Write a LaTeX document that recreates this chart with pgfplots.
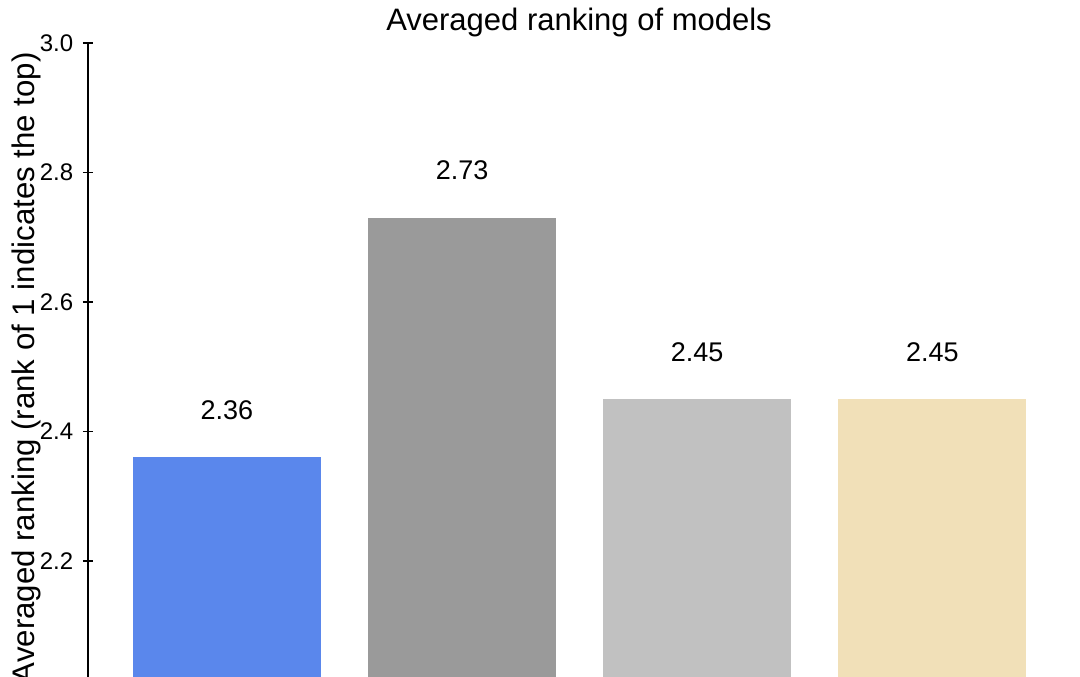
\documentclass[border=0pt]{standalone}
\usepackage{pgfplots}
\pgfplotsset{compat=1.18}
\usepackage{fontspec}
\setmainfont{Liberation Sans}
\definecolor{cblue}{HTML}{5A87EC}
\definecolor{cdgray}{HTML}{9A9A9A}
\definecolor{clgray}{HTML}{C1C1C1}
\definecolor{cbeige}{HTML}{F1E0B8}
\begin{document}
\fontsize{14bp}{16bp}\selectfont
\begin{tikzpicture}
\useasboundingbox (0,0) rectangle (540bp,338.5bp);
\clip (0,0) rectangle (540bp,338.5bp);
\begin{axis}[
  at={(44bp,0bp)}, anchor=south west,
  scale only axis,
  width=496bp, height=317bp,
  xmin=-0.591, xmax=3.628,
  ymin=2.021, ymax=3.0,
  axis y line*=left, axis x line=none,
  ytick={2.0,2.2,2.4,2.6,2.8,3.0},
  yticklabel style={/pgf/number format/.cd, fixed, precision=1, zerofill, assume math mode=true},
  ticklabel style={font=\fontsize{12bp}{14bp}\selectfont},
  tick align=center,
  major tick length=5bp,
  tick style={black, line width=0.8pt},
  axis line style={black, line width=0.8pt},
  ybar, bar width=94bp,
  every axis title shift=0pt,
  title={Averaged ranking of models},
  title style={at={(axis description cs:0.495,1.0205)}, anchor=base, font=\fontsize{15.5bp}{18bp}\selectfont, inner sep=0pt},
  ylabel={Averaged ranking (rank of 1 indicates the top)},
  ylabel style={at={(axis description cs:-0.0544,0.9858)}, anchor=base east, font=\fontsize{15.6bp}{18bp}\selectfont, inner sep=0pt},
  nodes near coords={\pgfmathprintnumber[fixed,precision=2,zerofill,assume math mode=true]{\pgfplotspointmeta}},
  nodes near coords style={anchor=base, yshift=19bp, font=\fontsize{13.5bp}{16bp}\selectfont, black},
]
\addplot[fill=cblue, draw=none, bar shift=0pt] coordinates {(0,2.36)};
\addplot[fill=cdgray, draw=none, bar shift=0pt] coordinates {(1,2.73)};
\addplot[fill=clgray, draw=none, bar shift=0pt] coordinates {(2,2.45)};
\addplot[fill=cbeige, draw=none, bar shift=0pt] coordinates {(3,2.45)};
\end{axis}
\end{tikzpicture}
\end{document}
